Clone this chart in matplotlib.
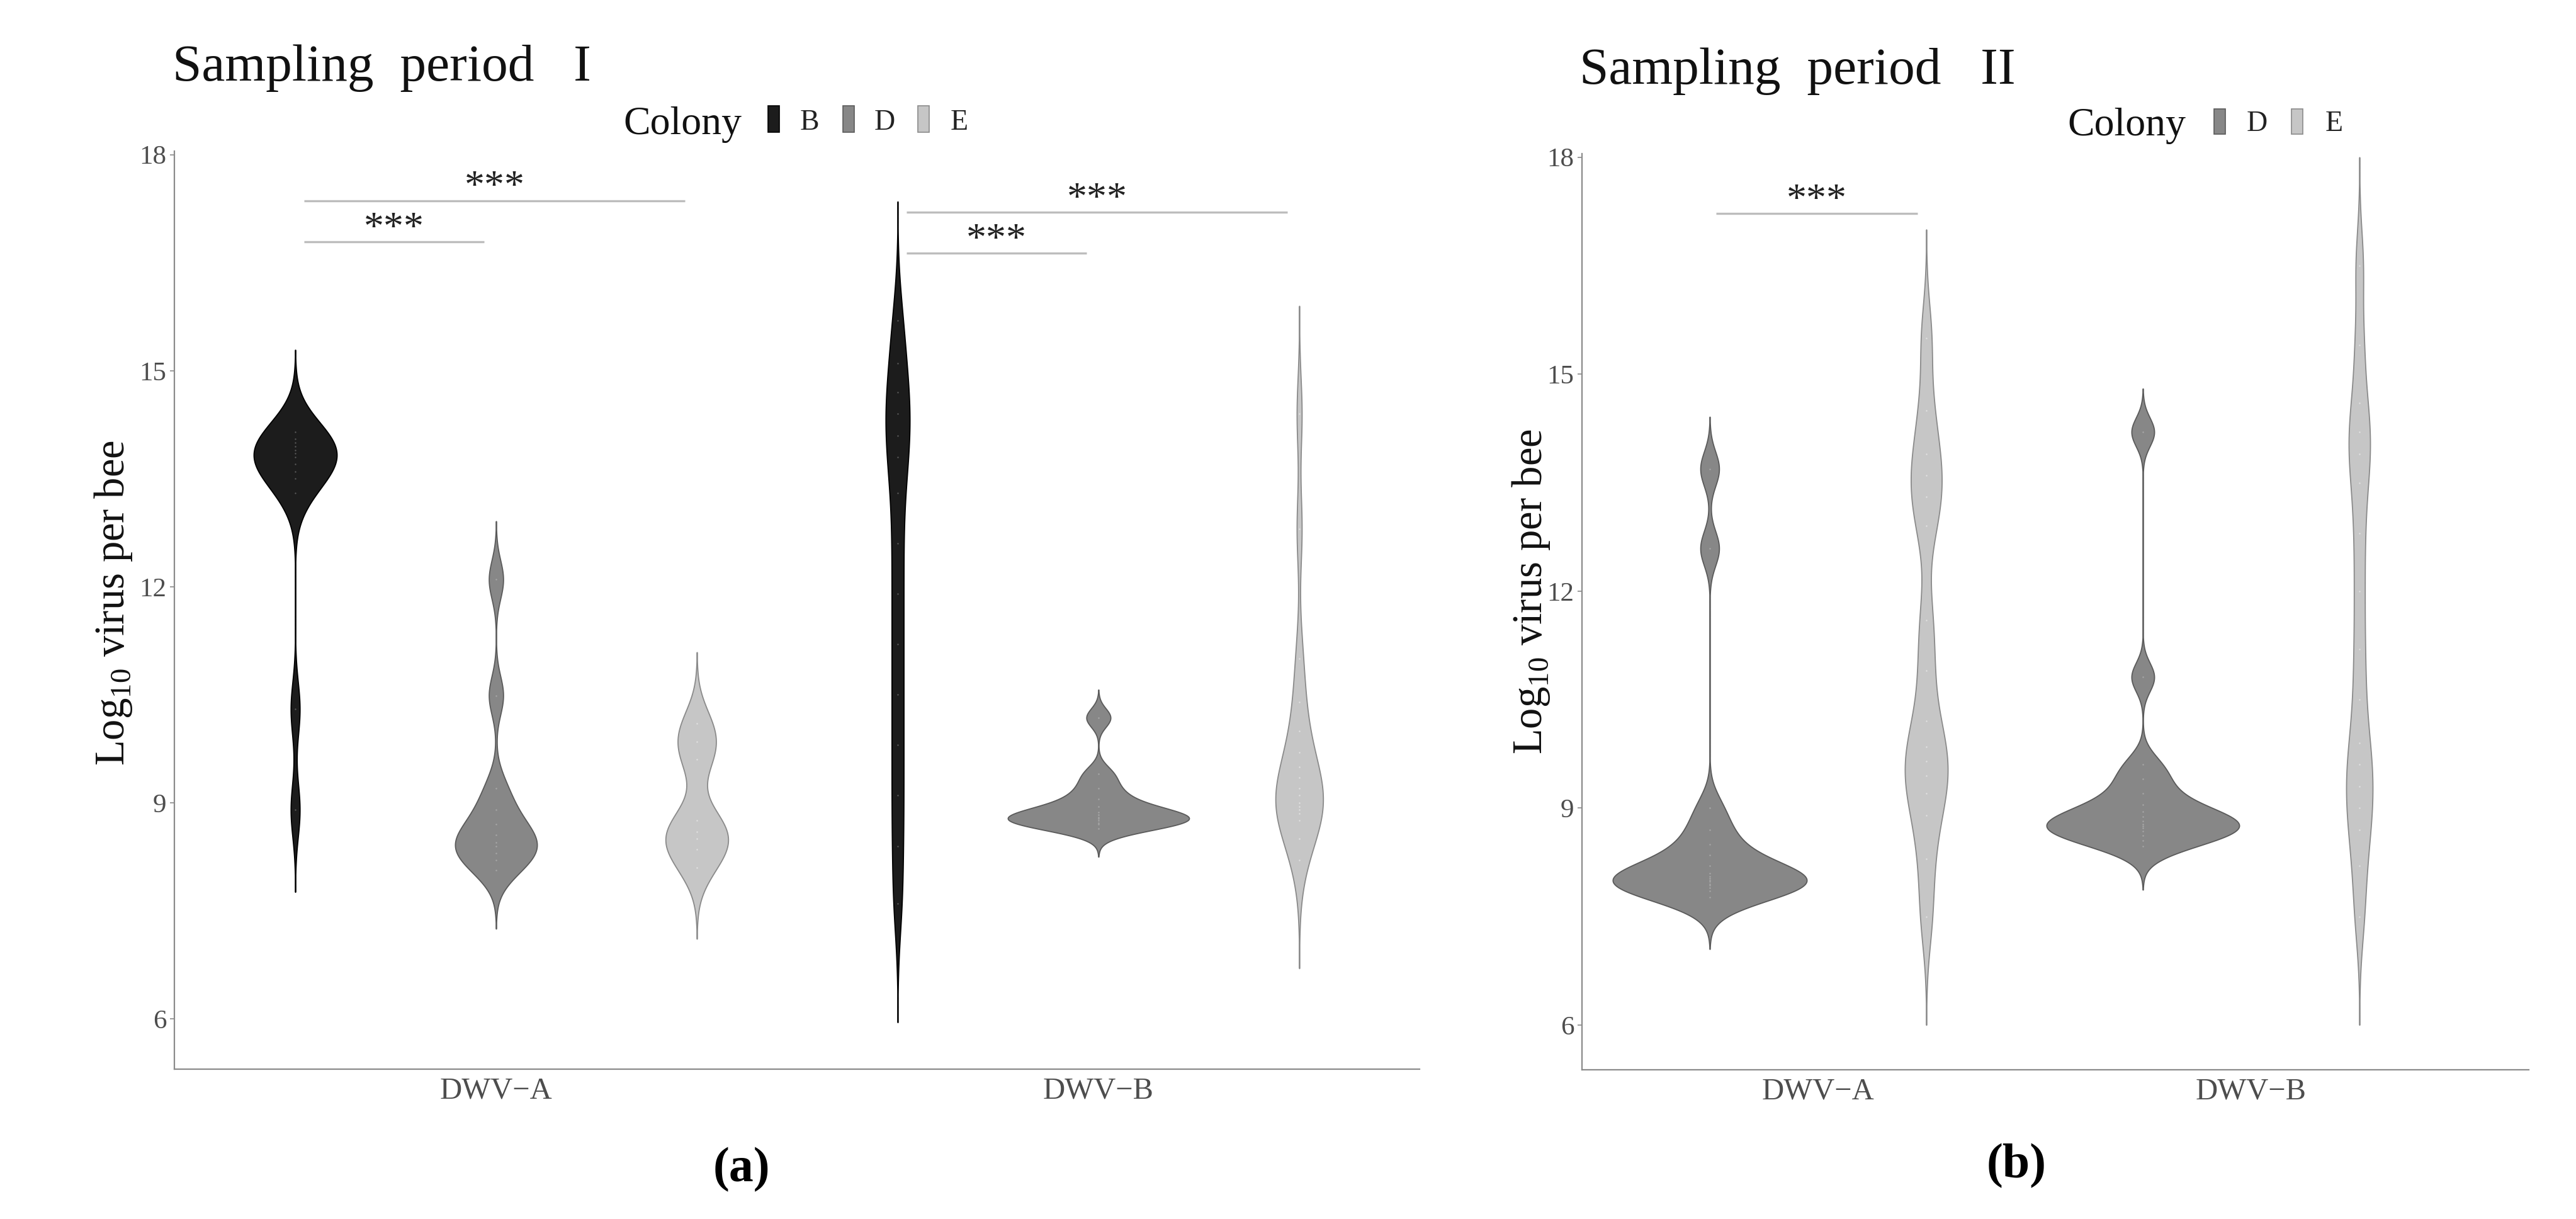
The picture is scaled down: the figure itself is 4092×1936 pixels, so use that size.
import numpy as np
import matplotlib.pyplot as plt
from matplotlib.mlab import GaussianKDE
from matplotlib.patches import Rectangle

plt.rcParams['font.family'] = ['Liberation Serif', 'DejaVu Serif']
plt.rcParams['mathtext.fontset'] = 'custom'
plt.rcParams['mathtext.rm'] = 'Liberation Serif'

# Virus types on the x axis
viruses = ['DWV\u2212A', 'DWV\u2212B']

# Sampling period I: log10 virus per bee, one list per virus and colony
p1_colonies = ['B', 'D', 'E']
p1_dwva_B = [8.9, 10.3, 13.3, 13.5, 13.6, 13.7, 13.8, 13.85, 13.9, 13.95, 14.0, 14.05, 14.15]
p1_dwva_D = [8.06, 8.2, 8.3, 8.4, 8.45, 8.55, 8.7, 8.9, 9.2, 10.49, 12.1]
p1_dwva_E = [8.1, 8.35, 8.5, 8.6, 8.75, 9.6, 9.85, 10.1]
p1_dwvb_B = [7.6, 8.4, 9.1, 9.8, 10.5, 11.2, 11.9, 12.6, 13.3, 13.8, 14.1, 14.4, 14.7, 15.1, 15.7]
p1_dwvb_D = [8.64, 8.7, 8.72, 8.75, 8.78, 8.8, 8.83, 8.87, 8.95, 9.05, 9.2, 9.4, 10.18]
p1_dwvb_E = [8.2, 8.5, 8.75, 8.85, 8.9, 8.95, 9.0, 9.1, 9.2, 9.35, 9.5, 9.7, 10.0, 10.4, 11.0,
             12.8, 14.4]
# kernel bandwidth (log10 units) for each violin
p1_bw = [[0.38, 0.27, 0.33], [0.55, 0.13, 0.5]]

# Sampling period II
p2_colonies = ['D', 'E']
p2_dwva_D = [7.77, 7.85, 7.9, 7.93, 7.95, 7.98, 8.0, 8.03, 8.05, 8.1, 8.2, 8.35, 8.5, 8.7, 9.0,
             12.59, 13.69]
p2_dwva_E = [7.5, 8.3, 8.9, 9.2, 9.45, 9.65, 9.85, 10.2, 10.9, 11.6, 12.9, 13.3, 13.6, 13.9,
             14.5, 15.5]
p2_dwvb_D = [8.47, 8.55, 8.62, 8.68, 8.72, 8.75, 8.78, 8.82, 8.88, 8.95, 9.05, 9.2, 9.4, 9.6,
             10.81, 14.2]
p2_dwvb_E = [7.5, 8.2, 8.7, 9.0, 9.3, 9.6, 9.9, 10.5, 11.2, 12.0, 12.8, 13.5, 13.9, 14.2, 14.6,
             15.4, 16.5]
p2_bw = [[0.24, 0.5], [0.2, 0.5]]

# Significance brackets: virus index, pair of colony indexes, height, label
p1_sig_virus = [0, 0, 1, 1]
p1_sig_pairs = [(0, 1), (0, 2), (0, 1), (0, 2)]
p1_sig_y = [16.79, 17.36, 16.63, 17.2]
p1_sig_text = ['***', '***', '***', '***']

p2_sig_virus = [0]
p2_sig_pairs = [(0, 1)]
p2_sig_y = [17.22]
p2_sig_text = ['***']

yticks = [6, 9, 12, 15, 18]

# Colours for each colony
fill = {'B': '#1c1c1c', 'D': '#878787', 'E': '#c6c6c6'}
edge = {'B': '#000000', 'D': '#5a5a5a', 'E': '#8a8a8a'}
dot = {'B': '#5a5a5a', 'D': '#a8a8a8', 'E': '#e2e2e2'}

W, H = 4092, 1936


def fx(px):
    return px / W


def fy(py):
    return 1 - py / H


def draw_violin(ax, values, pos, bw, width, colony):
    """Gaussian KDE violin, not trimmed (extends 3 bandwidths past the data)."""
    values = np.asarray(values, dtype=float)
    kde = GaussianKDE(values, bw_method=bw / values.std(ddof=1))
    coords = np.linspace(values.min() - 3 * bw, values.max() + 3 * bw, 600)
    stats = dict(coords=coords, vals=kde.evaluate(coords), mean=values.mean(),
                 median=np.median(values), min=values.min(), max=values.max())
    parts = ax.violin([stats], positions=[pos], widths=[width],
                      showmeans=False, showextrema=False, showmedians=False)
    body = parts['bodies'][0]
    body.set_facecolor(fill[colony])
    body.set_edgecolor(edge[colony])
    body.set_alpha(1)
    body.set_linewidth(1.3)
    ax.scatter(np.full(len(values), pos), values, s=3, color=dot[colony],
               linewidths=0, zorder=3)


def panel(rect, colonies, data, bws, widths, offsets, sig, xlim, ylim, ylabel_xy):
    ax = fig.add_axes(rect)
    for v in range(len(viruses)):
        for c, colony in enumerate(colonies):
            draw_violin(ax, data[v][c], v + 1 + offsets[c], bws[v][c], widths[v][c], colony)

    # significance lines
    sig_virus, sig_pairs, sig_y, sig_text = sig
    for v, (i, j), y, label in zip(sig_virus, sig_pairs, sig_y, sig_text):
        x0 = v + 1 + offsets[i] + 0.015
        x1 = v + 1 + offsets[j] - 0.02
        ax.plot([x0, x1], [y, y], color='#bdbdbd', lw=2.4, solid_capstyle='butt')
        ax.text((x0 + x1) / 2, y + 0.04, label, ha='center', va='baseline',
                fontsize=46, color='#222222')

    ax.set_xlim(*xlim)
    ax.set_ylim(*ylim)
    ax.set_xticks([1, 2])
    ax.set_xticklabels(viruses)
    ax.set_yticks(yticks)
    ax.tick_params(axis='x', length=0, pad=9, labelsize=35, labelcolor='#4d4d4d')
    ax.tick_params(axis='y', length=5, width=1.2, color='#8a8a8a', pad=4,
                   labelsize=31, labelcolor='#4d4d4d')
    for s in ['top', 'right']:
        ax.spines[s].set_visible(False)
    for s in ['left', 'bottom']:
        ax.spines[s].set_color('#8a8a8a')
        ax.spines[s].set_linewidth(1.6)
    ax.set_ylabel(r'Log$_{\mathregular{10}}$ virus per bee', fontsize=48, color='#111111',
                  va='center')
    ax.yaxis.set_label_coords(*ylabel_xy)
    return ax


def legend(colonies, text_x, base_y, key_x, key_top, key_bot, step, label_dx, label_base):
    fig.text(fx(text_x), fy(base_y), 'Colony', fontsize=46, color='#111111',
             ha='left', va='baseline')
    for k, colony in enumerate(colonies):
        cx = key_x + k * step
        fig.patches.append(Rectangle((fx(cx - 9), fy(key_bot)), 18 / W, (key_bot - key_top) / H,
                                     transform=fig.transFigure, facecolor=fill[colony],
                                     edgecolor=edge[colony], lw=1.2))
        fig.text(fx(cx + label_dx), fy(label_base), colony, fontsize=33, color='#222222',
                 ha='center', va='baseline')


fig = plt.figure(figsize=(W / 100, H / 100), dpi=100)

# (a) Sampling period I
p1_data = [[p1_dwva_B, p1_dwva_D, p1_dwva_E], [p1_dwvb_B, p1_dwvb_D, p1_dwvb_E]]
p1_widths = [[0.138, 0.136, 0.104], [0.040, 0.301, 0.079]]
panel([fx(277), fy(1698), (2255 - 277) / W, (1698 - 240) / H], p1_colonies, p1_data, p1_bw,
      p1_widths, [-1 / 3, 0, 1 / 3], (p1_sig_virus, p1_sig_pairs, p1_sig_y, p1_sig_text),
      (0.466, 2.533), (5.3, 18.05), (-0.049, 0.508))
fig.text(fx(274), fy(128), 'Sampling  period   I', fontsize=60, color='#111111',
         ha='left', va='baseline')
legend(p1_colonies, 990, 213, 1229, 168, 210, 119, 57, 206)
fig.text(fx(1178), fy(1858), '(a)', fontsize=56, fontweight='bold', ha='center', va='center')

# (b) Sampling period II
p2_data = [[p2_dwva_D, p2_dwva_E], [p2_dwvb_D, p2_dwvb_E]]
p2_widths = [[0.448, 0.099], [0.445, 0.061]]
panel([fx(2513), fy(1699), (4017 - 2513) / W, (1699 - 244) / H], p2_colonies, p2_data, p2_bw,
      p2_widths, [-0.25, 0.25], (p2_sig_virus, p2_sig_pairs, p2_sig_y, p2_sig_text),
      (0.455, 2.641), (5.38, 18.05), (-0.054, 0.522))
fig.text(fx(2509), fy(133), 'Sampling  period   II', fontsize=60, color='#111111',
         ha='left', va='baseline')
legend(p2_colonies, 3284, 215, 3526, 173, 213, 123, 59, 208)
fig.text(fx(3203), fy(1852), '(b)', fontsize=56, fontweight='bold', ha='center', va='center')

fig.savefig('out.png', dpi=100)
